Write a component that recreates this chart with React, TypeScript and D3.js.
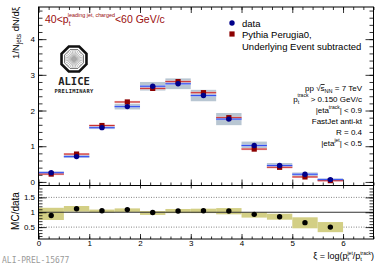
import React, { useEffect, useRef } from 'react';
import * as d3 from 'd3';

// xi bin edges and values
const xiEdges = [0, 0.5, 1, 1.5, 2, 2.5, 3, 3.5, 4, 4.5, 5, 5.5, 6];
const dataValues = [0.26, 0.71, 1.52, 2.11, 2.68, 2.75, 2.42, 1.76, 1.02, 0.46, 0.215, 0.065];
const dataSys = [0.03, 0.04, 0.04, 0.08, 0.12, 0.15, 0.16, 0.17, 0.11, 0.07, 0.05, 0.03];
const dataStat = [0.03, 0.03, 0.03, 0.03, 0.03, 0.03, 0.03, 0.03, 0.03, 0.03, 0.03, 0.03];
const mcValues = [0.22, 0.78, 1.58, 2.24, 2.62, 2.81, 2.5, 1.8, 0.92, 0.41, 0.14, 0.036];
const mcStat = [0.03, 0.03, 0.03, 0.03, 0.03, 0.03, 0.03, 0.03, 0.03, 0.03, 0.03, 0.03];
const ratioValues = [0.89, 1.12, 1.05, 1.09, 0.99, 1.04, 1.05, 1.04, 0.93, 0.85, 0.65, 0.5];
const ratioLow = [0.74, 1.02, 0.99, 1.01, 0.91, 0.97, 0.97, 0.93, 0.82, 0.75, 0.46, 0.33];
const ratioHigh = [1.15, 1.21, 1.09, 1.13, 1.04, 1.11, 1.12, 1.14, 1.0, 0.95, 0.83, 0.67];
const topYTicks = [0, 1, 2, 3, 4];
const ratioYTicks = [0.5, 1, 1.5];
const xTicks = [0, 1, 2, 3, 4, 5, 6];

const font = 'Liberation Sans, Arial, Helvetica, sans-serif';

export default function App() {
  const gRef = useRef<SVGGElement>(null);

  useEffect(() => {
    if (!gRef.current) return;
    const g = d3.select(gRef.current);
    g.selectAll('*').remove();

    const left = 38.5, right = 373.5, top = 7, mid = 185.5, bottom = 239;
    const x = d3.scaleLinear().domain([0, 6.6]).range([left, right]);
    const yTop = d3.scaleLinear().domain([-0.1, 4.9]).range([mid, top]);
    const yRat = d3.scaleLinear().domain([0.1, 1.9]).range([bottom, mid]);

    const bins = dataValues.map((v, i) => ({
      lo: xiEdges[i], hi: xiEdges[i + 1], c: (xiEdges[i] + xiEdges[i + 1]) / 2,
      data: v, sys: dataSys[i], stat: dataStat[i],
      mc: mcValues[i], mcStat: mcStat[i],
      r: ratioValues[i], rLo: ratioLow[i], rHi: ratioHigh[i]
    }));

    const band = (cls: string, val: (d: any) => number, err: (d: any) => number, fill: string) => {
      g.selectAll(`rect.${cls}`).data(bins).join('rect')
        .attr('class', cls)
        .attr('x', d => x(d.lo))
        .attr('width', d => x(d.hi) - x(d.lo))
        .attr('y', d => yTop(val(d) + err(d)))
        .attr('height', d => yTop(val(d) - err(d)) - yTop(val(d) + err(d)))
        .attr('fill', fill);
    };
    const hline = (cls: string, val: (d: any) => number, color: string) => {
      g.selectAll(`line.${cls}`).data(bins).join('line')
        .attr('class', cls)
        .attr('x1', d => x(d.lo)).attr('x2', d => x(d.hi))
        .attr('y1', d => yTop(val(d))).attr('y2', d => yTop(val(d)))
        .attr('stroke', color).attr('stroke-width', 1);
    };

    // upper panel
    band('sys', d => d.data, d => d.sys, '#b8c6d2');
    band('mcband', d => d.mc, d => d.mcStat, '#f0b4b4');
    band('databand', d => d.data, d => d.stat, '#a9b7f5');
    hline('mcline', d => d.mc, '#c83030');
    hline('dataline', d => d.data, '#3350f0');

    g.selectAll('rect.mc').data(bins).join('rect')
      .attr('class', 'mc')
      .attr('x', d => x(d.c) - 2.6).attr('y', d => yTop(d.mc) - 2.6)
      .attr('width', 5.2).attr('height', 5.2)
      .attr('fill', '#8c0000');
    g.selectAll('circle.data').data(bins).join('circle')
      .attr('class', 'data')
      .attr('cx', d => x(d.c)).attr('cy', d => yTop(d.data))
      .attr('r', 2.7).attr('fill', '#00008a');

    // ratio panel
    [0.5, 1.5].forEach(v => {
      g.append('line')
        .attr('x1', left).attr('x2', right)
        .attr('y1', yRat(v)).attr('y2', yRat(v))
        .attr('stroke', '#777').attr('stroke-width', 0.9)
        .attr('stroke-dasharray', '1,1.5');
    });
    g.selectAll('rect.rband').data(bins).join('rect')
      .attr('class', 'rband')
      .attr('x', d => x(d.lo)).attr('width', d => x(d.hi) - x(d.lo))
      .attr('y', d => yRat(d.rHi)).attr('height', d => yRat(d.rLo) - yRat(d.rHi))
      .attr('fill', '#d3cf85');
    g.append('line')
      .attr('x1', left).attr('x2', right)
      .attr('y1', yRat(1)).attr('y2', yRat(1))
      .attr('stroke', '#333').attr('stroke-width', 1);
    g.selectAll('circle.ratio').data(bins).join('circle')
      .attr('class', 'ratio')
      .attr('cx', d => x(d.c)).attr('cy', d => yRat(d.r))
      .attr('r', 2.7).attr('fill', '#000');

    // axes (ROOT style, ticks inward on all sides)
    const place = (axis: any, tx: number, ty: number) => {
      const a = g.append('g').attr('transform', `translate(${tx},${ty})`).call(axis);
      a.select('.domain').remove();
      a.selectAll('line').attr('stroke', '#000').attr('stroke-width', 0.8);
      a.selectAll('text').attr('font-family', font).attr('font-size', 8).attr('fill', '#000');
    };
    const none = () => '';
    const xMinor = d3.range(0, 34).map(i => i * 0.2);
    const yTopMinor = d3.range(0, 25).map(i => i * 0.2);
    const yRatMinor = d3.range(2, 19).map(i => i * 0.1);

    place(d3.axisLeft(yTop).tickValues(topYTicks).tickSize(-8).tickPadding(3.5).tickFormat(d3.format('d')), left, 0);
    place(d3.axisLeft(yTop).tickValues(yTopMinor).tickSize(-4).tickFormat(none), left, 0);
    place(d3.axisRight(yTop).tickValues(topYTicks).tickSize(-8).tickFormat(none), right, 0);
    place(d3.axisRight(yTop).tickValues(yTopMinor).tickSize(-4).tickFormat(none), right, 0);
    place(d3.axisBottom(x).tickValues(xTicks).tickSize(-6).tickFormat(none), 0, mid);
    place(d3.axisBottom(x).tickValues(xMinor).tickSize(-3).tickFormat(none), 0, mid);
    place(d3.axisTop(x).tickValues(xTicks).tickSize(-6).tickFormat(none), 0, top);
    place(d3.axisTop(x).tickValues(xMinor).tickSize(-3).tickFormat(none), 0, top);

    place(d3.axisLeft(yRat).tickValues(ratioYTicks).tickSize(-8).tickPadding(3.5).tickFormat(d3.format('')), left, 0);
    place(d3.axisLeft(yRat).tickValues(yRatMinor).tickSize(-4).tickFormat(none), left, 0);
    place(d3.axisRight(yRat).tickValues(ratioYTicks).tickSize(-8).tickFormat(none), right, 0);
    place(d3.axisRight(yRat).tickValues(yRatMinor).tickSize(-4).tickFormat(none), right, 0);
    place(d3.axisBottom(x).tickValues(xTicks).tickSize(-5).tickPadding(1.5).tickFormat(d3.format('d')), 0, bottom);
    place(d3.axisBottom(x).tickValues(xMinor).tickSize(-2.5).tickFormat(none), 0, bottom);
    place(d3.axisTop(x).tickValues(xTicks).tickSize(-3).tickFormat(none), 0, mid);

    // frames
    g.append('rect').attr('x', left).attr('y', top).attr('width', right - left).attr('height', mid - top)
      .attr('fill', 'none').attr('stroke', '#000').attr('stroke-width', 1);
    g.append('rect').attr('x', left).attr('y', mid).attr('width', right - left).attr('height', bottom - mid)
      .attr('fill', 'none').attr('stroke', '#000').attr('stroke-width', 1);

    // ALICE logo
    const cx = 74, cy = 59;
    const oct = (r: number) => d3.range(8).map(i => {
      const a = Math.PI / 8 + i * Math.PI / 4;
      return [cx + r * Math.cos(a), cy + r * Math.sin(a)] as [number, number];
    });
    const logo = g.append('g');
    logo.append('path').attr('d', d3.line()(oct(13.5)) + 'Z')
      .attr('fill', '#fff').attr('stroke', '#111').attr('stroke-width', 2.6);
    logo.append('path').attr('d', d3.line()(oct(10.2)) + 'Z')
      .attr('fill', 'none').attr('stroke', '#333').attr('stroke-width', 0.7);
    d3.range(28).forEach(i => {
      const a = i * 2 * Math.PI / 28;
      logo.append('line')
        .attr('x1', cx).attr('y1', cy)
        .attr('x2', cx + 9.2 * Math.cos(a)).attr('y2', cy + 9.2 * Math.sin(a))
        .attr('stroke', '#888').attr('stroke-width', 0.55);
    });
    logo.append('circle').attr('cx', cx).attr('cy', cy).attr('r', 2).attr('fill', '#aaa');
  }, []);

  const sub = { fontSize: 5.5 };
  return (
    <div style={{ position: 'absolute', left: 0, top: 0 }}>
      <svg width={390} height={265} style={{ display: 'block', background: '#fff' }}>
        <g ref={gRef} />

        <text x={45} y={23} fill="#9a0d0d" fontFamily={font} fontSize={10.5}>
          40&lt;p<tspan fontSize={6.5} dy={2.8}>t</tspan>
          <tspan fontSize={5.4} dx={-2.6} dy={-8.6}>leading jet, charged</tspan>
          <tspan dy={5.8}>&lt;60 GeV/c</tspan>
        </text>

        <circle cx={232} cy={23} r={2.7} fill="#00008a" />
        <text x={242} y={26.5} fontFamily={font} fontSize={9.5}>data</text>
        <rect x={229.4} y={31.4} width={5.2} height={5.2} fill="#8c0000" />
        <text x={242} y={37.5} fontFamily={font} fontSize={9.5}>Pythia Perugia0,</text>
        <text x={242} y={49.5} fontFamily={font} fontSize={9.5}>Underlying Event subtracted</text>

        <g fontFamily={font} fontSize={8} textAnchor="end">
          <text x={362} y={91}>
            pp  √<tspan textDecoration="overline">s</tspan><tspan {...sub} dy={2}>NN</tspan>
            <tspan dy={-2}> = 7 TeV</tspan>
          </text>
          <text x={362} y={101.5}>
            p<tspan {...sub} dy={2}>t</tspan><tspan fontSize={5} dx={-1.6} dy={-6.5}>track</tspan>
            <tspan dy={4.5}> &gt; 0.150 GeV/c</tspan>
          </text>
          <text x={362} y={112.5}>
            |eta<tspan fontSize={5} dy={-3.5}>track</tspan><tspan dy={3.5}>| &lt; 0.9</tspan>
          </text>
          <text x={362} y={124}>FastJet anti-kt</text>
          <text x={362} y={135}>R = 0.4</text>
          <text x={362} y={145.5}>
            |eta<tspan fontSize={5} dy={-3.5}>jet</tspan><tspan dy={3.5}>| &lt; 0.5</tspan>
          </text>
        </g>

        <text x={74} y={85} textAnchor="middle" fontFamily="DejaVu Sans Mono, monospace" fontWeight="bold" fontSize={10.5} fill="#222">ALICE</text>
        <text x={74} y={92.5} textAnchor="middle" fontFamily="DejaVu Sans Mono, monospace" fontWeight="bold" fontSize={5.4} fill="#222" letterSpacing={0.3}>PRELIMINARY</text>

        <text transform="translate(18.5,7) rotate(-90)" textAnchor="end" fontFamily={font} fontSize={9.5}>
          1/N<tspan fontSize={6.5} dy={2.5}>jets</tspan><tspan dy={-2.5}> dN/dξ</tspan>
        </text>
        <text transform="translate(18.5,211) rotate(-90)" textAnchor="middle" fontFamily={font} fontSize={10}>MC/data</text>

        <text x={374} y={259} textAnchor="end" fontFamily={font} fontSize={9}>
          ξ = log(p<tspan fontSize={6} dy={2}>t</tspan><tspan fontSize={5} dx={-1.8} dy={-6.5}>jet</tspan>
          <tspan dy={4.5}>/p</tspan><tspan fontSize={6} dy={2}>t</tspan><tspan fontSize={5} dx={-1.8} dy={-6.5}>track</tspan>
          <tspan dy={4.5}>)</tspan>
        </text>

        <text x={2} y={263} fontFamily="DejaVu Sans Mono, Liberation Mono, monospace" fontSize={8} fill="#9a9a9a">ALI-PREL-15677</text>
      </svg>
    </div>
  );
}
